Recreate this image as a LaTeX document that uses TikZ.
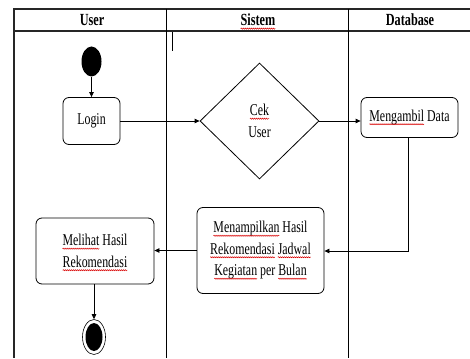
\documentclass[tikz,border=0pt]{standalone}
\usepackage{fontspec}
\setmainfont{Liberation Serif}[FakeStretch=0.72]
\usetikzlibrary{shapes.geometric,arrows.meta,decorations.pathmorphing}
\newcommand\sq[1]{\tikz[baseline=(w.base),every node/.style={}]{\node[shape=rectangle,draw=none,fill=none,minimum width=0pt,minimum height=0pt,inner sep=0pt,outer sep=0pt,sharp corners] (w) {#1};\draw[overlay,red!85!black,line width=0.5pt,sharp corners,decorate,decoration={snake,segment length=2pt,amplitude=0.6pt}] ([yshift=-2.8pt]w.base west) -- ([yshift=-2.8pt]w.base east);}}
\begin{document}
\begin{tikzpicture}[x=1pt,y=-1pt,
  every node/.style={font=\fontsize{16.5}{21.5}\selectfont},
  frame/.style={line width=1.3pt,draw=black!85},
  act/.style={draw,rounded corners=6pt,line width=0.8pt,align=center,inner sep=0pt},
  conn/.style={line width=0.8pt,-{Triangle[length=5pt,width=4.5pt]}},
  hdr/.style={font=\fontsize{17}{18}\selectfont\bfseries}]
\useasboundingbox (0,0) rectangle (470,358);
\fill[white] (0,0) rectangle (470,358);
% swimlane frame
\draw[frame] (470,9) -- (14,9) -- (14,358);
\draw[frame] (14,31) -- (470,31);
\draw[line width=0.8pt] (166,9) -- (166,358);
\draw[line width=0.8pt] (348,9) -- (348,358);
\draw[line width=0.6pt] (172,32) -- (172,51);
\node[hdr] (hu) at (92,20) {User};
\node[hdr] (hs) at (258,20) {\sq{Sistem}};
\node[hdr] (hd) at (410,20) {Database};
% nodes
\node[ellipse,fill=black,minimum width=20pt,minimum height=30pt,inner sep=0pt] (start) at (91.5,61.5) {};
\node[act,minimum width=57pt,minimum height=47pt] (login) at (91.5,121) {Login};
\node[diamond,draw,line width=0.8pt,minimum width=119pt,minimum height=116pt,inner sep=0pt,align=center] (cek) at (259.5,121) {\sq{Cek}\\User};
\node[act,minimum width=97pt,minimum height=40pt] (meng) at (409.5,117.5) {\sq{Mengambil} Data};
\node[act,minimum width=127pt,minimum height=86pt] (tampil) at (260.5,250.5) {\sq{Menampilkan} Hasil\\\sq{Rekomendasi} \sq{Jadwal}\\\sq{Kegiatan} per \sq{Bulan}};
\node[act,minimum width=118pt,minimum height=66pt] (lihat) at (95,251) {\sq{Melihat} Hasil\\\sq{Rekomendasi}};
\node[ellipse,draw,line width=0.6pt,minimum width=23pt,minimum height=35pt,inner sep=0pt] (end) at (94,337) {};
\node[ellipse,fill=black,minimum width=17pt,minimum height=28pt,inner sep=0pt] (endin) at (94,337) {};
% connectors
\draw[conn] (start) -- (login);
\draw[conn] (login) -- (cek.west);
\draw[conn] (cek.east) -- (cek.east -| meng.west);
\coordinate (turn) at (408,251);
\draw[conn] (meng.south -| turn) -- (turn) -- (tampil.east |- turn);
\draw[conn] (tampil.west) -- (tampil.west -| lihat.east);
\draw[conn] (lihat.south -| end) -- (end.north);
\end{tikzpicture}
\end{document}
